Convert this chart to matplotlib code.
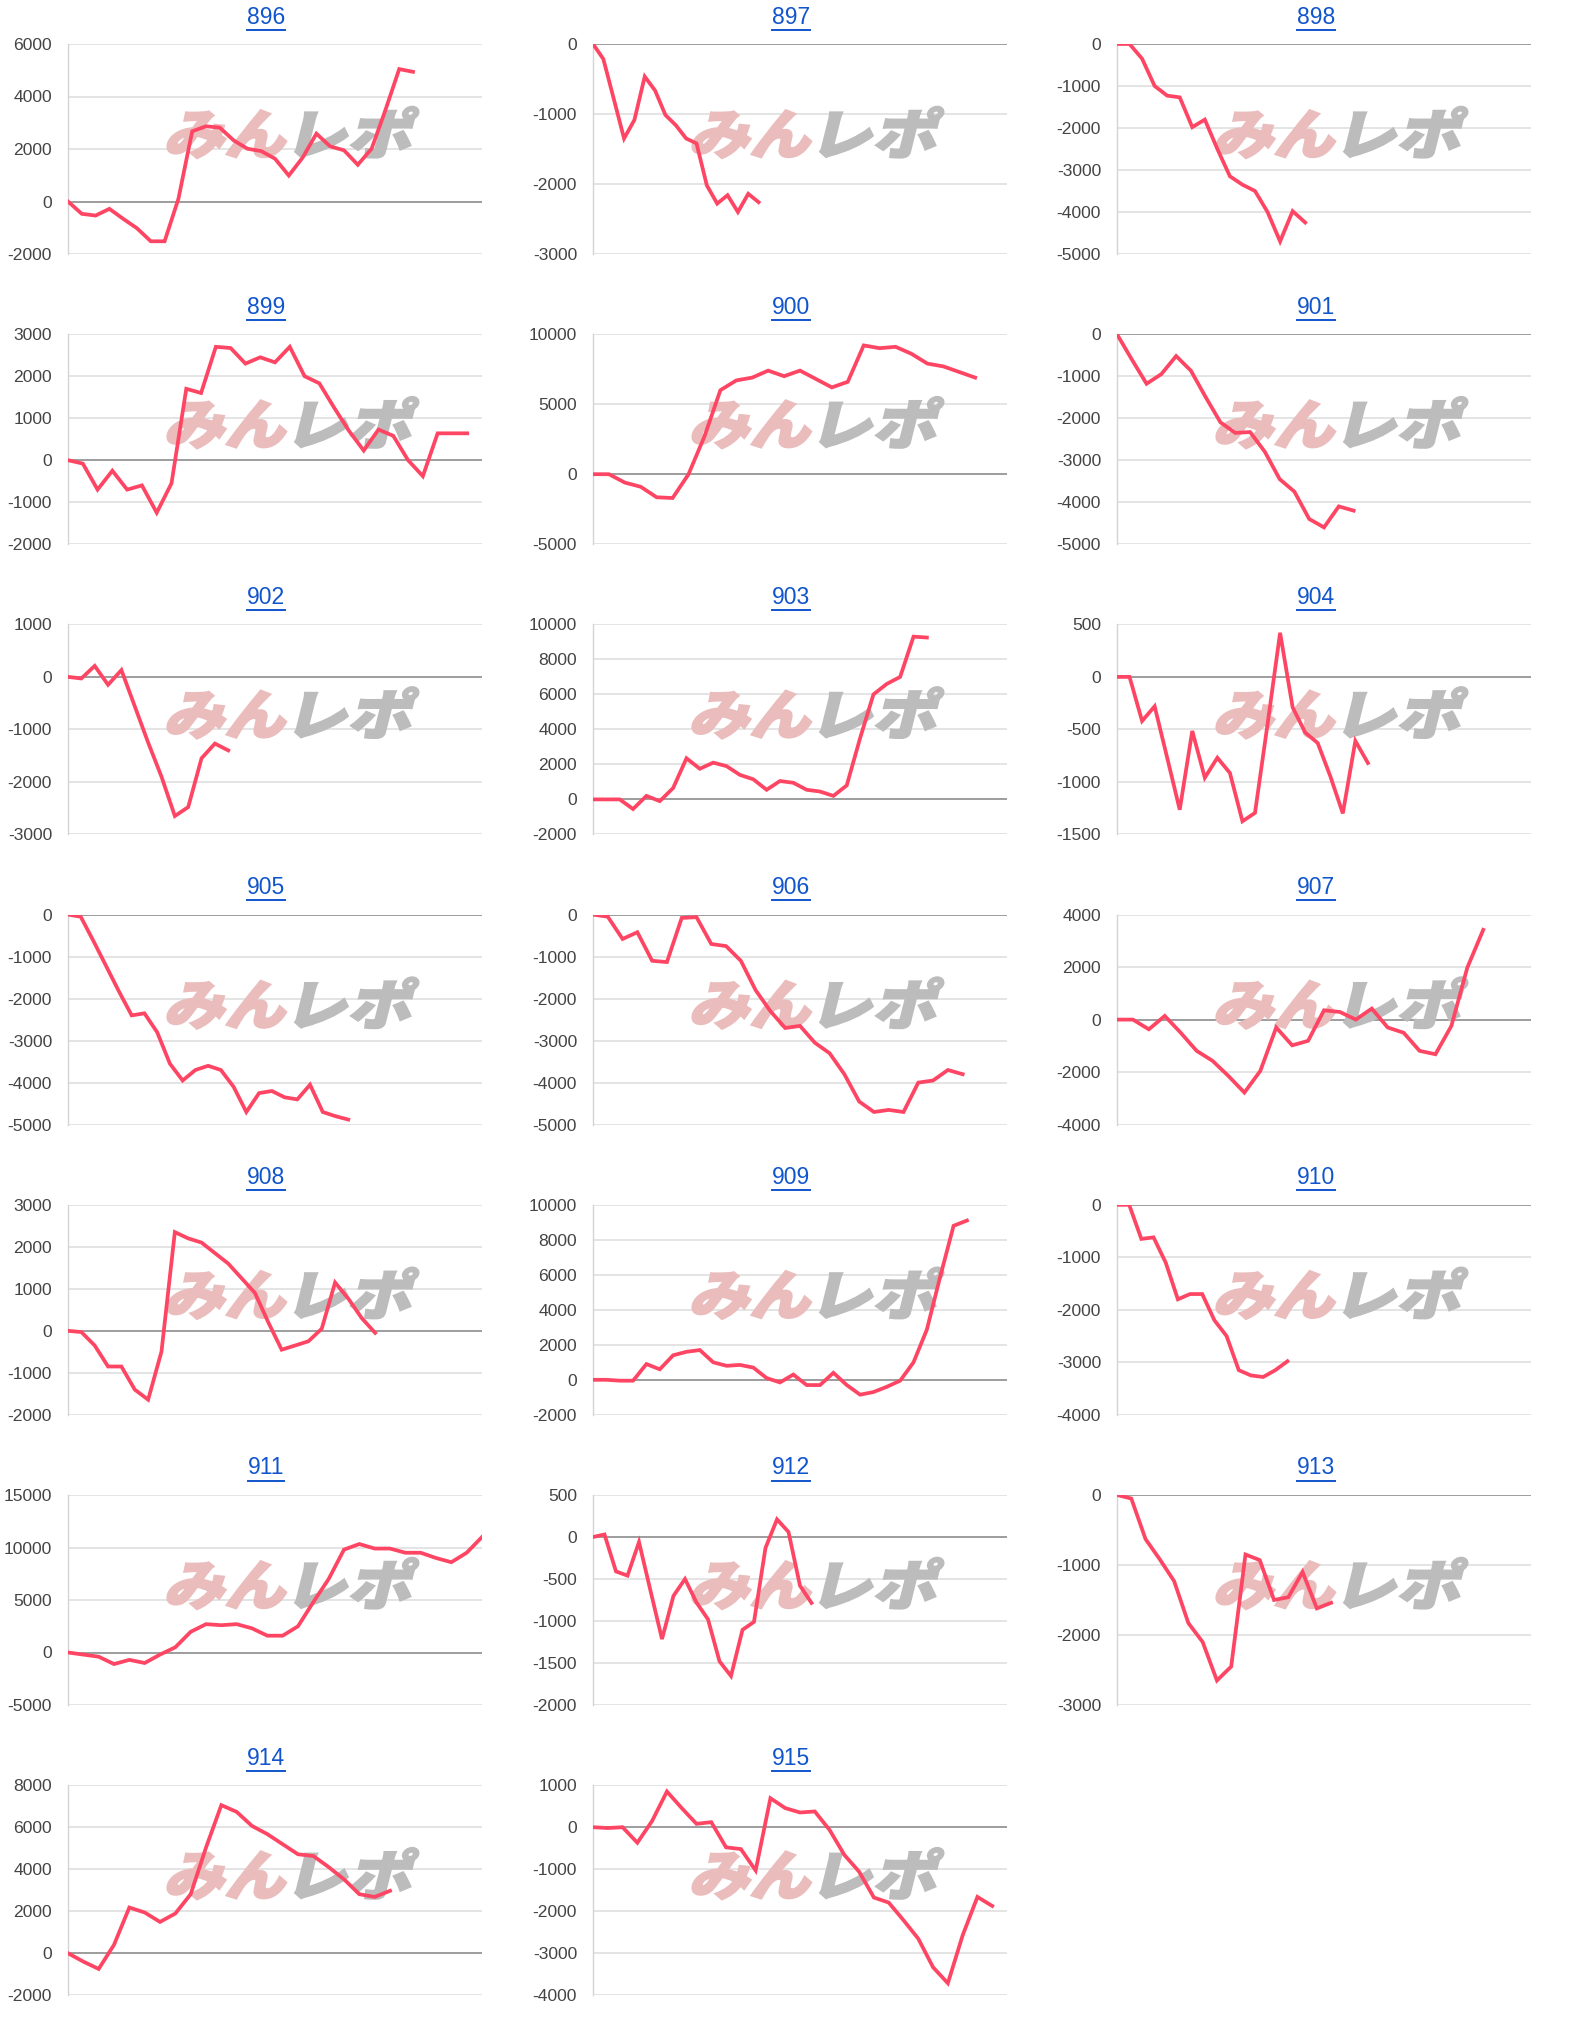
import numpy as np
import matplotlib.pyplot as plt
from matplotlib.lines import Line2D
from matplotlib.textpath import TextPath
from matplotlib.patches import PathPatch
from matplotlib.font_manager import FontProperties
from matplotlib.transforms import Affine2D

plt.rcParams['font.family'] = ['Liberation Sans', 'DejaVu Sans']
plt.rcParams['axes.unicode_minus'] = False

titles = ['896', '897', '898', '899', '900', '901', '902', '903', '904', '905',
          '906', '907', '908', '909', '910', '911', '912', '913', '914', '915']

s896 = [0, -470, -535, -280, -660, -1020, -1515, -1515, 100, 2675, 2865, 2815, 2330,
        2010, 1920, 1630, 990, 1670, 2585, 2100, 1950, 1400, 2010, 3480, 5045, 4940]
s897 = [0, -215, -780, -1350, -1085, -465, -665, -1015, -1160, -1350, -1420, -2020,
        -2280, -2160, -2400, -2140, -2260]
s898 = [0, 0, -350, -1000, -1230, -1270, -1980, -1800, -2500, -3150, -3350, -3500,
        -4000, -4700, -3980, -4250]
s899 = [0, -80, -700, -250, -700, -600, -1250, -550, 1700, 1600, 2700, 2670, 2300,
        2450, 2330, 2700, 2000, 1830, 1250, 700, 230, 730, 580, 0, -380, 640, 640, 640]
s900 = [0, 0, -600, -900, -1650, -1700, 0, 2700, 6000, 6700, 6900, 7400, 7000, 7400,
        6800, 6200, 6600, 9200, 9000, 9100, 8600, 7900, 7700, 7300, 6900]
s901 = [0, -600, -1180, -950, -520, -870, -1500, -2100, -2350, -2330, -2800, -3450,
        -3750, -4400, -4600, -4100, -4200]
s902 = [0, -30, 210, -150, 130, -560, -1250, -1900, -2650, -2480, -1550, -1270, -1400]
s903 = [0, 0, 0, -550, 200, -100, 650, 2350, 1750, 2100, 1900, 1400, 1150, 550, 1050,
        950, 550, 450, 200, 800, 3500, 6000, 6600, 7000, 9300, 9250]
s904 = [0, 0, -420, -280, -770, -1265, -515, -960, -770, -915, -1375, -1295, -450, 420,
        -290, -530, -630, -945, -1300, -610, -820]
s905 = [0, -50, -630, -1230, -1830, -2400, -2350, -2800, -3550, -3950, -3700, -3600,
        -3700, -4100, -4700, -4250, -4200, -4350, -4400, -4050, -4700, -4800, -4880]
s906 = [0, -50, -580, -420, -1100, -1130, -80, -60, -700, -750, -1100, -1800, -2300,
        -2700, -2650, -3050, -3300, -3800, -4450, -4700, -4650, -4700, -4000, -3950,
        -3700, -3800]
s907 = [0, 0, -370, 140, -500, -1190, -1570, -2150, -2780, -1955, -300, -980, -810,
        355, 290, 0, 420, -300, -500, -1190, -1320, -240, 1980, 3420]
s908 = [0, -30, -350, -850, -850, -1400, -1640, -495, 2350, 2200, 2100, 1850, 1600,
        1250, 900, 200, -450, -350, -250, 50, 1150, 760, 300, -50]
s909 = [0, 0, -50, -50, 900, 600, 1400, 1600, 1700, 1000, 800, 850, 700, 100, -150, 300,
        -300, -300, 400, -300, -850, -700, -400, -50, 1000, 2870, 5900, 8800, 9100]
s910 = [0, 0, -650, -620, -1100, -1800, -1700, -1700, -2200, -2500, -3150, -3250, -3280,
        -3150, -2980]
s911 = [0, -200, -400, -1100, -700, -1000, -200, 500, 1970, 2700, 2600, 2700, 2300, 1600,
        1600, 2500, 4800, 7000, 9800, 10330, 9900, 9900, 9500, 9500, 9000, 8600, 9500, 11000]
s912 = [0, 30, -410, -460, -60, -640, -1215, -700, -500, -780, -980, -1480, -1655, -1105,
        -1010, -130, 210, 60, -580, -785]
s913 = [0, -50, -630, -920, -1230, -1830, -2100, -2650, -2450, -850, -930, -1500, -1460,
        -1100, -1620, -1540]
s914 = [0, -400, -750, 400, 2175, 1940, 1490, 1890, 2810, 5030, 7050, 6730, 6060, 5670,
        5190, 4710, 4630, 4100, 3520, 2810, 2680, 2970]
s915 = [0, -20, 0, -370, 150, 850, 455, 80, 120, -480, -520, -1030, 690, 455, 350, 375,
        -65, -660, -1060, -1675, -1795, -2215, -2655, -3335, -3715, -2575, -1660, -1875]

series = [s896, s897, s898, s899, s900, s901, s902, s903, s904, s905,
          s906, s907, s908, s909, s910, s911, s912, s913, s914, s915]

# y axis (min, max, step) and number of x slots per panel
y_axes = [(-2000, 6000, 2000), (-3000, 0, 1000), (-5000, 0, 1000), (-2000, 3000, 1000),
          (-5000, 10000, 5000), (-5000, 0, 1000), (-3000, 1000, 1000), (-2000, 10000, 2000),
          (-1500, 500, 500), (-5000, 0, 1000), (-5000, 0, 1000), (-4000, 4000, 2000),
          (-2000, 3000, 1000), (-2000, 10000, 2000), (-4000, 0, 1000), (-5000, 15000, 5000),
          (-2000, 500, 500), (-3000, 0, 1000), (-2000, 8000, 2000), (-4000, 1000, 1000)]
x_slots = [30, 40, 33, 28, 26, 28, 31, 31, 33, 32.5,
           28, 26, 31, 31, 34, 27, 36, 29, 27, 28]

W, H = 1575, 2030
fig = plt.figure(figsize=(W / 100, H / 100), dpi=100)

LINE = '#fe4664'
LINK = '#1155cc'
col_left = [68, 593, 1117]
PW, PH = 414, 210
wm_font = FontProperties(family='Noto Sans CJK JP', weight='black')


def add_watermark(ax, left, top):
    # left/top in pixels from the figure's top-left corner
    base = H - (top + 110)
    for txt, color, dx, sx in (("みん", "#eabcbc", 95, 61), ("レポ", "#bcbcbc", 215, 64)):
        path = TextPath((0, 0), txt, size=1, prop=wm_font)
        tr = Affine2D().scale(sx, 54).skew_deg(14, 0).translate(left + dx, base)
        ax.add_artist(PathPatch(path, transform=tr, facecolor=color, edgecolor=color,
                                lw=1.5, zorder=1.5, clip_on=False))


title_texts = []
for i, (name, vals) in enumerate(zip(titles, series)):
    r, c = divmod(i, 3)
    left = col_left[c]
    top = 44 + 290.2 * r
    ax = fig.add_axes([left / W, 1 - (top + PH) / H, PW / W, PH / H])
    ax.set_facecolor('none')
    lo, hi, step = y_axes[i]
    ax.set_ylim(lo, hi)
    ax.set_yticks(np.arange(lo, hi + 1, step))
    ax.set_xlim(0, x_slots[i])
    ax.set_xticks([])
    ax.yaxis.grid(True, color='#e2e2e2', lw=1.3, zorder=0)
    ax.set_axisbelow(True)
    ax.axhline(0, color='#9e9e9e', lw=1.4, zorder=1)
    for s in ('top', 'right', 'bottom'):
        ax.spines[s].set_visible(False)
    ax.spines['left'].set_color('#d4d4d4')
    ax.spines['left'].set_linewidth(1.0)
    ax.tick_params(axis='y', length=0, pad=11.5, labelsize=12.6, labelcolor='#444444')
    add_watermark(ax, left, top)
    ax.plot(np.arange(len(vals)), vals, color=LINE, lw=2.7, zorder=3,
            solid_joinstyle='miter')
    t = fig.text((c * 525 + 266) / W, 1 - (top - 27) / H, name, ha='center', va='center',
                 fontsize=16.5, color=LINK)
    title_texts.append(t)

# underline the title links
fig.canvas.draw()
renderer = fig.canvas.get_renderer()
for t in title_texts:
    bb = t.get_window_extent(renderer)
    y = bb.y0 - 1
    fig.add_artist(Line2D([bb.x0 / W, bb.x1 / W], [y / H, y / H], color=LINK, lw=1.4))

fig.savefig('out.png', dpi=100)
